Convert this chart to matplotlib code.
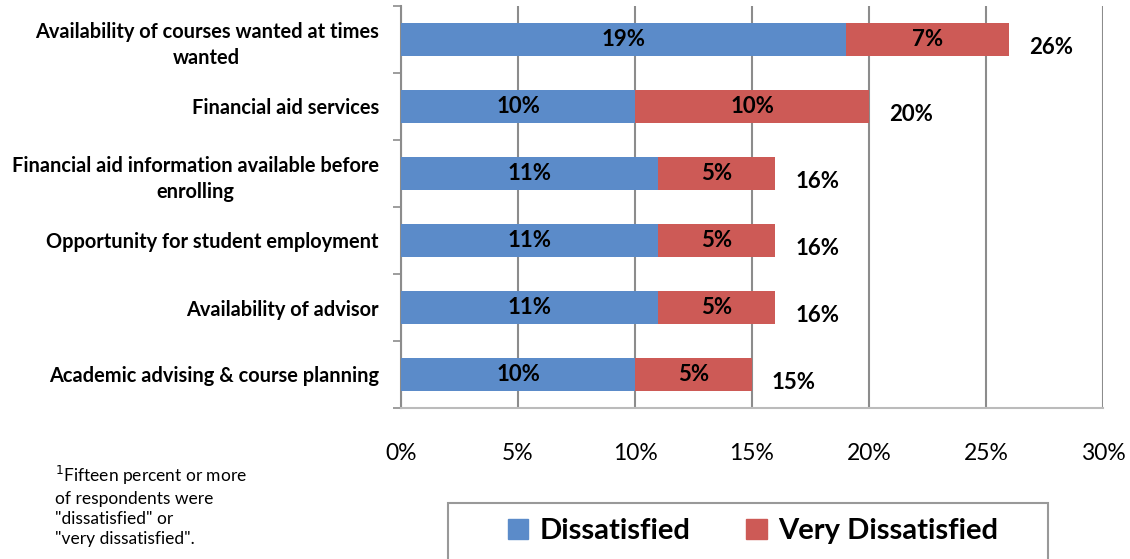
import matplotlib.pyplot as plt
import numpy as np
from matplotlib.patches import Rectangle
from matplotlib.ticker import FixedLocator

plt.rcParams['font.family'] = ['Lato', 'DejaVu Sans']

# --- data (top to bottom) ---
categories = [
    "Availability of courses wanted at times\nwanted",
    "Financial aid services",
    "Financial aid information available before\nenrolling",
    "Opportunity for student employment",
    "Availability of advisor",
    "Academic advising & course planning",
]
dissatisfied = [19, 10, 11, 11, 11, 10]
very_dissatisfied = [7, 10, 5, 5, 5, 5]
totals = [26, 20, 16, 16, 16, 15]
x_ticks = [0, 5, 10, 15, 20, 25, 30]

BLUE = "#5B8BC9"
RED = "#CD5A56"
GRID = "#8C8C8C"

fig = plt.figure(figsize=(11.3, 5.59), dpi=100)
ax = fig.add_axes([401 / 1130, 1 - 408 / 559, 702 / 1130, 402 / 559])

y = np.arange(len(categories))
h = 0.5
ax.barh(y, dissatisfied, height=h, color=BLUE, zorder=3)
ax.barh(y, very_dissatisfied, left=dissatisfied, height=h, color=RED, zorder=3)

for i in range(len(categories)):
    d, v, t = dissatisfied[i], very_dissatisfied[i], totals[i]
    ax.text(d / 2, i, f"{d}%", ha="center", va="center",
            fontsize=16, fontweight="bold", zorder=4)
    ax.text(d + v / 2, i, f"{v}%", ha="center", va="center",
            fontsize=16, fontweight="bold", zorder=4)
    ax.text(d + v + 0.85, i + 0.12, f"{t}%", ha="left", va="center",
            fontsize=16, fontweight="bold", zorder=4)

ax.set_xlim(0, 30)
ax.set_ylim(len(categories) - 0.5, -0.5)
ax.set_xticks(x_ticks)
ax.set_xticklabels([f"{v}%" for v in x_ticks], fontsize=16.5)
ax.tick_params(axis="x", length=0, pad=25)
ax.grid(axis="x", color=GRID, linewidth=1.5, zorder=0)

ax.set_yticks(y)
ax.set_yticklabels(categories, fontsize=14.4, fontweight="bold",
                   multialignment="center", linespacing=1.4)
ax.yaxis.set_minor_locator(FixedLocator(np.arange(-0.5, len(categories), 1)))
ax.tick_params(axis="y", which="major", length=0, pad=16)
ax.tick_params(axis="y", which="minor", length=6, width=1.2, color=GRID)

for s in ["top", "right"]:
    ax.spines[s].set_visible(False)
ax.spines["left"].set_color(GRID)
ax.spines["left"].set_linewidth(1.5)
ax.spines["bottom"].set_color("#BBBBBB")
ax.spines["bottom"].set_linewidth(1.5)

# footnote
fig.text(55 / 1130, 1 - 464 / 559,
         "$^{1}$Fifteen percent or more\nof respondents were\n\"dissatisfied\" or\n\"very dissatisfied\".",
         fontsize=12.5, va="top", ha="left", linespacing=1.3)

# legend box
fig.patches.append(Rectangle((448 / 1130, -0.05), 600 / 1130, 0.05 + 56 / 559,
                             transform=fig.transFigure, facecolor="white",
                             edgecolor="#999999", linewidth=1.5))
handles = [Rectangle((0, 0), 1, 1, color=BLUE), Rectangle((0, 0), 1, 1, color=RED)]
fig.legend(handles, ["Dissatisfied", "Very Dissatisfied"], loc="center",
           bbox_to_anchor=(753 / 1130, 1 - 531 / 559), ncol=2, frameon=False,
           prop={"size": 21, "weight": "bold"}, handlelength=0.7, handleheight=0.7,
           handletextpad=0.4, columnspacing=1.9)

fig.savefig("out.png", dpi=100)
